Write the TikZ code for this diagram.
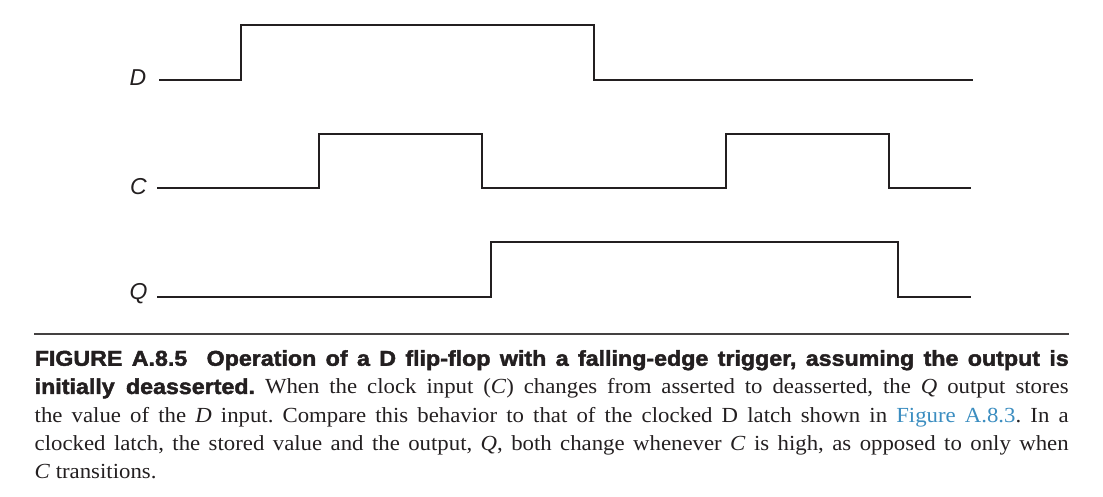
\documentclass[tikz,border=0pt]{standalone}
\usepackage{fontspec}
\setmainfont[FakeStretch=1.06]{Liberation Serif}
\setsansfont{Liberation Sans}
\newfontfamily\capsans[FakeStretch=1.08,BoldFeatures={FakeBold=2}]{Liberation Sans}
\usepackage{xcolor}
\definecolor{ink}{HTML}{231F20}
\definecolor{linkblue}{HTML}{3B8DC0}
\newcommand{\capline}[1]{\makebox[1034pt][s]{#1}}
\begin{document}
\begin{tikzpicture}[x=1pt,y=-1pt,
  wave/.style={line width=2.8pt, draw=ink, line join=miter},
  siglabel/.style={font=\sffamily\itshape\fontsize{23}{23}\selectfont, text=ink, inner sep=0pt},
  rule/.style={line width=1.6pt, draw=ink!85},
  caption/.style={anchor=north west, inner sep=0pt, align=left, text=ink,
    font=\fontsize{21.5}{28.2}\selectfont\frenchspacing}]
\useasboundingbox (0,0) rectangle (1103,497);

% signal labels
\node[siglabel] (Dlab) at (138,77.7) {D};
\node[siglabel] (Clab) at (138.5,186.5) {C};
\node[siglabel] (Qlab) at (138.5,294) {Q};

% waveform start points
\coordinate (D0) at (159,80);
\coordinate (C0) at (157,188);
\coordinate (Q0) at (157,297);

% waveforms
\draw[wave] (D0) -| (241,25) -| (594,80) -- (973,80);
\draw[wave] (C0) -| (319,134) -| (482,188) -| (726,134) -| (889,188) -- (971,188);
\draw[wave] (Q0) -| (491,242) -| (898,297) -- (971,297);

% caption rule
\coordinate (R0) at (34,334);
\coordinate (R1) at (1068.5,334);
\draw[rule] (R0) -- (R1);

% caption
\node[caption] (cap) at (34.5,350) {%
\capline{{\capsans\bfseries FIGURE A.8.5\hspace{0.9em}Operation of a D flip-flop with a falling-edge trigger, assuming the output is}}\\
\capline{{\capsans\bfseries initially deasserted.} When the clock input (\textit{C}) changes from asserted to deasserted, the \textit{Q} output stores}\\
\capline{the value of the \textit{D} input. Compare this behavior to that of the clocked D latch shown in \textcolor{linkblue}{Figure A.8.3}. In a}\\
\capline{clocked latch, the stored value and the output, \textit{Q}, both change whenever \textit{C} is high, as opposed to only when}\\
\textit{C} transitions.};
\end{tikzpicture}
\end{document}
